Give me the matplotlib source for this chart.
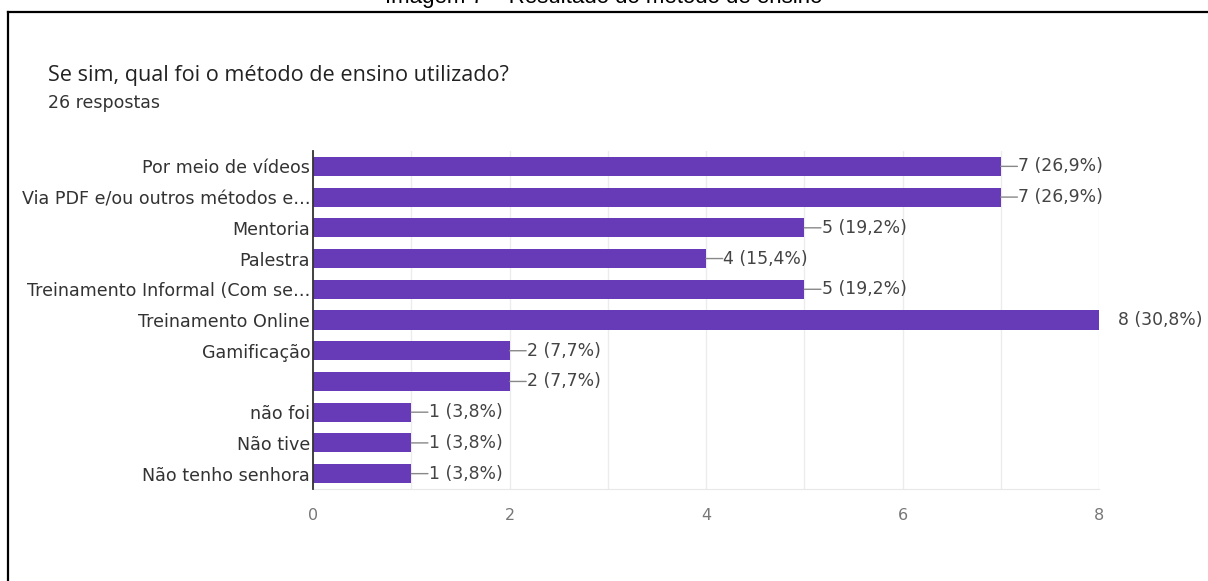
import matplotlib.pyplot as plt
from matplotlib.lines import Line2D

categorias = ['Por meio de vídeos', 'Via PDF e/ou outros métodos e…', 'Mentoria',
              'Palestra', 'Treinamento Informal (Com se…', 'Treinamento Online',
              'Gamificação', '', 'não foi', 'Não tive', 'Não tenho senhora']
valores = [7, 7, 5, 4, 5, 8, 2, 2, 1, 1, 1]
rotulos = ['7 (26,9%)', '7 (26,9%)', '5 (19,2%)', '4 (15,4%)', '5 (19,2%)', '8 (30,8%)',
           '2 (7,7%)', '2 (7,7%)', '1 (3,8%)', '1 (3,8%)', '1 (3,8%)']
ticks = [0, 2, 4, 6, 8]

roxo = '#673ab7'
plt.rcParams['font.family'] = ['DejaVu Sans']

fig = plt.figure(figsize=(12.08, 5.81), dpi=100)
ax = fig.add_axes([313/1208, 1-489/581, (1099-313)/1208, (489-151)/581])

y = list(range(len(categorias)))
ax.barh(y, valores, height=0.62, color=roxo, zorder=3)
ax.set_ylim(len(categorias)-0.5, -0.5)
ax.set_xlim(0, 8)
ax.set_yticks(y)
ax.set_yticklabels(categorias, fontsize=12.6, color='#333333')
ax.set_xticks(ticks)
ax.set_xticklabels([str(t) for t in ticks], fontsize=11.5, color='#777777')
ax.set_xticks(range(9), minor=True)
ax.tick_params(axis='y', length=0, pad=2)
ax.tick_params(axis='x', which='both', length=0, pad=14)
ax.grid(axis='x', which='both', color='#ececec', linewidth=1, zorder=0)

for s in ['top', 'right']:
    ax.spines[s].set_visible(False)
ax.spines['bottom'].set_color('#e8e8e8')
ax.spines['left'].set_color('#333333')
ax.spines['left'].set_linewidth(1.3)
ax.spines['left'].set_zorder(4)

vmax = max(valores)
for i, (v, r) in enumerate(zip(valores, rotulos)):
    if v == vmax:
        ax.annotate(r, xy=(v, i), xytext=(14, 0), textcoords='offset points',
                    va='center', ha='left', fontsize=12.4, color='#444444',
                    annotation_clip=False)
    else:
        ax.annotate('', xy=(v, i), xytext=(12, 0), textcoords='offset points',
                    arrowprops=dict(arrowstyle='-', color='#888888', lw=1,
                                    shrinkA=0, shrinkB=0))
        ax.annotate(r, xy=(v, i), xytext=(12.5, 0), textcoords='offset points',
                    va='center', ha='left', fontsize=12.4, color='#444444')

fig.text(48/1208, 1-75/581, 'Se sim, qual foi o método de ensino utilizado?',
         fontsize=15.6, color='#222222', family=['Open Sans', 'DejaVu Sans'], va='center')
fig.text(48/1208, 1-103/581, '26 respostas', fontsize=12.5, color='#333333',
         family=['DejaVu Sans'], va='center')

# legenda da figura, cortada no topo da página
fig.text(0.5, 1-3/581, 'Imagem 7 – Resultado do método de ensino', fontsize=16,
         ha='center', va='baseline', color='black', family=['Liberation Sans', 'DejaVu Sans'])

# moldura
fig.add_artist(Line2D([8/1208, 1], [1-12/581, 1-12/581], color='black', lw=1.6))
fig.add_artist(Line2D([8/1208, 8/1208], [0, 1-12/581], color='black', lw=1.6))

fig.savefig('out.png', dpi=100)
